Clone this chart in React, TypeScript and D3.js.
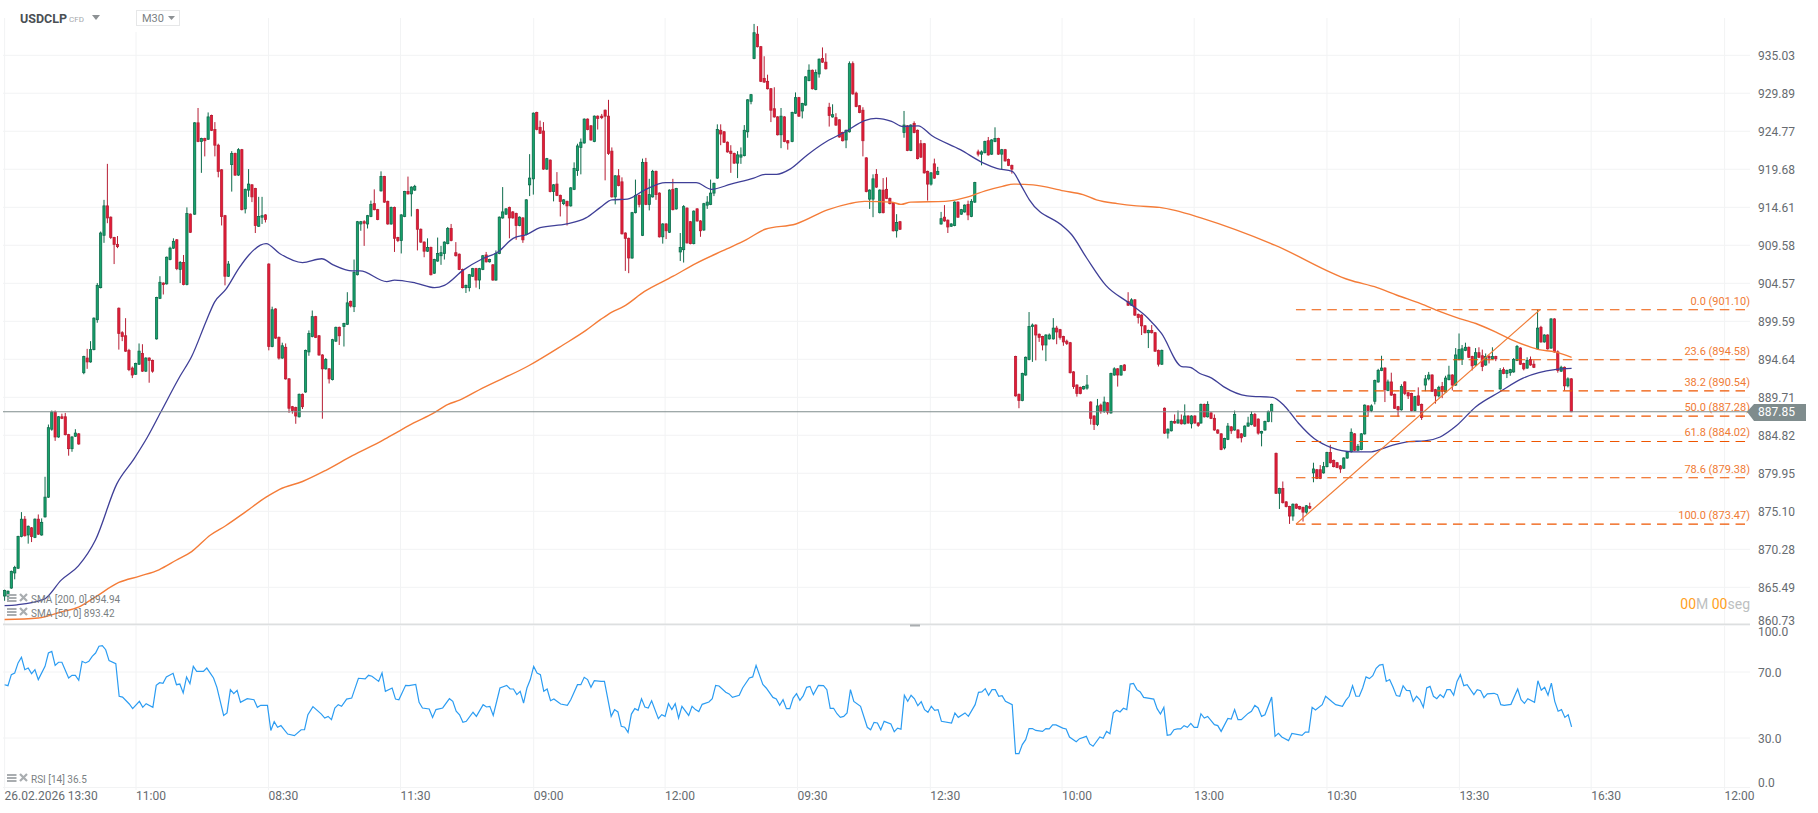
import React from "react";
import * as d3 from "d3";

const priceTicks = [935.03,929.89,924.77,919.68,914.61,909.58,904.57,899.59,894.64,889.71,884.82,879.95,875.10,870.28,865.49,860.73];
const rsiTicks = [100,70,30,0];
const timeLabels = ["26.02.2026 13:30","11:00","08:30","11:30","09:00","12:00","09:30","12:30","10:00","13:00","10:30","13:30","16:30","12:00"];
const timeSlots = [0,39,78.3,117.5,157,196,235.3,274.7,313.8,353,392.4,431.7,470.8,510.4];
const lastPrice = 887.85;
const fibLevels = [["0.0",901.10],["23.6",894.58],["38.2",890.54],["50.0",887.28],["61.8",884.02],["78.6",879.38],["100.0",873.47]] as [string,number][];
const fibSlots = [383.2,455.6];

// each candle: open, close, high, low. chunkStarts holds the slot of each chunk's first candle
const c0=[[864.4,865.1,865.2,863.8],[864.4,865.0,865.1,863.7],[865.4,867.5,867.6,865.3],[867.3,868.0,868.2,866.5],[867.9,871.9,872,867.8],[871.9,874.1,875,871.8],[874.1,872,874.5,871.9],[872.1,873.2,873.3,871],[873,871.9,873.1,871.2],[871.8,874.1,874.2,871.7],[874.1,872.2,874.7,872.1],[872.1,873.7,874.2,872],[874.4,876.9,879.5,874.3],[876.9,885.8,886.2,876.8],[885.6,887.8,888,885.4],[887.8,884.6,888,884.1],[884.6,887.2,887.3,884.5],[887.2,887,887.6,886.9],[887.2,884.9,887.7,884.8],[884.9,883.1,885,882.2],[883.1,884.6,884.7,882.7],[884.7,885.1,885.6,884.6],[885,883.7,885.1,883.6]];
const c1=[[892.9,895,895.1,892.7],[894.8,894.3,896,893.4],[894.3,895.9,897,894.2],[895.9,900,900.1,895.8],[899.8,904.3,904.6,899.4],[904,911.2,911.4,903.9],[910.9,914.8,915.6,909.9],[914.8,913.2,920.4,912.5],[913.3,910.6,913.4,910.4],[910.6,909.7,910.7,907.1],[909.7,909.4,910.8,909.2]];
const c2=[[901.3,898,901.4,895.9],[898.1,897.6,898.3,897],[897.7,895.7,900,895.6],[895.8,893.3,896,893.1],[893.5,892.6,893.7,892.2],[892.7,894.1,894.2,892.6],[894,895.7,896.7,893.9],[895.4,893.1,896.6,893],[893.1,894.8,894.9,893],[894.8,894.5,894.9,891.6],[894.5,893.1,894.6,892.9]];
const c3=[[897.3,902.7,902.8,897.2],[902.6,904.7,905.5,902.5],[904.6,904.4,904.7,903.1],[904.5,908,908.1,904.4],[907.7,909.2,909.4,907.6],[909.2,910.1,910.5,909.1],[910.3,906.5,910.4,906.3],[906.4,907.3,907.5,904.6],[907.3,904.4,908.3,904.3],[904.4,913.8,914.6,904.3],[913.7,911.3,913.8,911.2]];
const c4=[[913.7,925.9,926,913.6],[925.9,923.4,927.9,923.3],[923.4,923.8,923.9,919.2],[923.8,923.5,923.9,921.4],[923.7,926.7,927.3,923.6],[926.9,924.9,927,924.8],[925,922.9,926,921.4],[922.9,919.4,923.1,918.6],[919.6,913.4,919.7,912.2],[913.5,905.5,913.6,904.3],[905.5,907.1,907.5,905.4]];
const c5=[[920.3,921.8,922.1,916.7],[921.8,918.9,921.9,918.8],[918.9,922.3,922.5,918.8],[922.3,914.3,922.4,914.2],[914.4,917,917.1,913.8],[916.9,917.7,919.7,916],[917.6,916,917.7,915.3],[917.1,912.2,917.2,911.2],[912.1,913.4,916,912],[913.3,913.5,916,912.4],[913.6,913,913.7,912.6]];
const c6=[[907.1,896.3,907.2,895.8],[896.3,901.1,901.5,896.2],[901.2,897.4,901.3,897.3],[897.5,894.8,897.6,894.6],[894.8,896.4,896.8,894.7],[896.2,892.1,896.7,892],[892.1,888.3,892.2,887.7],[888.5,888,888.6,887.6],[888.4,887.3,888.5,886.3],[887.2,890.1,890.2,887.1],[890.1,888.5,890.2,888.2]];
const c7=[[890.4,895.8,895.9,890.3],[895.6,898,898.4,895.1],[897.6,900.2,901,897.5],[900.2,897.5,900.3,897.4],[897.7,895.2,897.8,895.1],[895.2,893.4,895.3,886.95],[893.4,894.6,894.8,893.3],[893.4,892.1,893.5,891.5],[892,897.2,897.3,891.9],[897,898.8,898.9,896.9],[898.8,897.7,898.9,896.5]];
const c8=[[898.9,899.3,899.4,896.3],[899.2,902,903.4,899.1],[902.2,901.6,902.3,901.4],[901.5,906,907.7,900.8],[905.7,912.7,912.8,905.6],[912.4,912.7,912.8,911.5],[912.7,912.5,912.9,909.5],[912.4,913.5,913.6,911.8],[913.4,915,915.5,913.3],[915.1,914.3,917,914.2],[914.3,913,914.4,912.9]];
const c9=[[916.8,918.7,919.4,916.7],[918.7,915.3,918.8,915.2],[915.4,912.4,915.5,912.3],[912.4,914.6,914.7,912.3],[914.6,910.5,914.7,908.7],[910.6,910.2,910.7,910],[910.2,913.6,913.7,908.5],[913.4,916.7,916.8,913.3],[916.7,916.4,918.7,916.3],[916.4,917.3,917.4,913.4],[916.9,917.4,917.6,916.8]];
const c10=[[914.3,911.7,914.4,908.9],[911.7,910,911.8,909.9],[910,908.8,910.1,908],[908.8,909.3,910.5,908.7],[909.3,905.7,909.4,905.6],[905.9,907.7,907.8,905.8],[907.5,908.5,910.6,907.4],[908.2,908.6,909.5,907],[908.5,910,910.1,907.7],[909.8,911.8,912,909.7],[911.8,910.2,912.4,910.1]];
const c11=[[908.6,908.2,910,908.1],[908.4,906.4,908.5,906.3],[906.4,904,906.5,903.9],[904,904.3,904.4,903.3],[904,905.7,905.8,903.5],[905.5,906.5,906.6,905.4],[906.5,905,906.6,904],[905,906.5,906.6,903.8],[906.4,908.2,908.3,906.3],[908.3,907.4,908.7,907.3],[907.4,907.7,907.8,907.3],[907,905,907.1,904.9]];
const c12=[[905,908.5,908.9,904.9],[908.5,913.3,913.4,908.4],[913.2,914,917.3,913.1],[913.7,914.4,914.5,913.6],[914.6,913.2,914.7,910.5],[914,913.2,914.1,913.1],[913.8,912.2,913.9,910.3],[912.2,913.3,913.4,912.1],[913.2,910.3,913.3,909.9],[911,915.6,915.7,910.9],[917.6,918.5,921.7,916.1]];
const c13=[[918.4,927.2,927.3,916.3],[927.3,925,927.4,924.9],[925.3,924.5,926.2,924.4],[924.8,919.7,926,919.6],[919.7,921.1,921.2,919.6],[920.9,916.7,921,916.6],[916.7,917.6,917.7,915.4],[917.7,916.2,919.3,916.1],[916.2,915.4,916.3,913.4],[915.1,915.6,915.7,914.9],[915.4,914.8,915.5,912.2]];
const c14=[[914.8,917.2,917.3,914.7],[917,919.8,920.6,916.9],[919.5,922.8,923.1,918.8],[922.6,923.3,923.8,919],[923.2,926.4,926.5,923.1],[926.4,925,926.5,924.9],[925.5,923.6,925.6,923.5],[923.4,926.8,926.9,923.3],[926.8,926.5,926.9,925]];
const c15=[[926.8,926.6,927.1,926.4],[927.6,926.8,927.7,918.2],[926.8,921.8,929,921.6],[922.1,916,922.6,915.9],[916,918.8,918.9,915],[918.8,917.5,919.7,917.4],[918,911.1,918.6,911],[911.2,910.5,911.3,906.2],[910.5,907.9,910.6,905.9],[907.9,913.9,914,907.8],[913.9,916.2,918.3,913.8]];
const c16=[[916.2,915,916.3,914.6],[910.9,920.6,921.1,910.8],[920.6,915,921.2,914.9],[915,916.3,918.4,914.2],[916,919.4,919.6,915.9],[919.4,916.3,919.5,915.6],[916.5,910.7,916.6,910.6],[910.7,912.4,912.5,909.8],[912.4,911.5,912.5,910.4],[911.3,916.9,917,911.2],[917,914.3,918.4,914.2],[914.4,917.1,917.2,914.3]];
const c17=[[908.7,909.3,911.2,907.5],[909,914.7,914.9,907.3],[914.5,909.9,914.6,909.8],[912.7,909.8,912.8,909.7],[909.8,914.1,914.2,909.7],[914.4,912.8,914.5,912.7],[912.8,911.5,912.9,910.7],[911.6,915.1,915.2,911.5],[914.9,915.3,916.1,914.4],[915,916.5,918.3,914.9],[916.5,917.8,917.9,916.1]];
const c18=[[918.5,925,925.7,918.4],[924.9,924.4,925.7,922.9],[924.7,923.3,924.8,923.2],[923.3,922,923.4,921.9],[922.1,921.8,922.9,919.2],[921.8,920.5,921.9,920.4],[920.5,921.6,922.1,918.5],[921.3,921.6,922.6,920.4],[921.5,924.9,925.6,921.4],[924.7,929,929.1,923.9],[928.8,929.7,929.8,928.4]];
const c19=[[934.6,938.1,939.3,934.5],[937.9,936.2,939,936.1],[936.2,931.5,936.3,931.4],[931.9,931.4,934.9,931.3],[931.5,930.5,932.4,930.4],[930.5,927.6,930.6,926],[927.8,926.7,930.7,926.6],[926.7,924.3,926.8,924.2],[924.3,926.8,927.9,922.5],[926.7,923.4,926.8,923.3],[923.5,923.2,923.6,922.3]];
const c20=[[923.4,927.3,927.4,923.3],[927.2,929.3,930,927.1],[929.3,926.8,929.4,926.7],[927.5,928.5,928.6,926.5],[928.3,932.1,932.2,928.2],[931.6,933,933.8,931.5],[933,930.5,933.1,930.4],[930.4,932.7,933.1,930.3],[932.5,934.5,934.6,932],[934.6,934.1,936.1,934],[934.1,933.2,935.3,933.1]];
const c21=[[928,926.9,928.6,925.4],[926.7,927,928.4,926.6],[926.6,925.6,927.2,925.5],[926.3,924,926.4,923.9],[924.6,923.5,924.7,923.4],[923.6,924.9,925,922.5],[924.7,933.9,934.2,924.6],[933.9,929.8,934.2,929.7],[929.9,928.1,930.1,928],[928.2,927.3,928.3,927.2],[927.6,923.5,928,921.4]];
const c22=[[921.2,916.7,921.3,916.6],[915.7,916.9,917,914.4],[915.7,918.4,919,913.3],[919,917.3,919.7,917.2],[913.9,916.9,917,913.8],[916.9,913.9,918.5,913.8],[917,915.8,918.6,915.7],[915.8,915.1,915.9,915],[915.2,911.5,915.3,911.4],[911.5,912.6,913.7,910.6],[912.7,911.7,912.8,911.6]];
const c23=[[924.6,925.6,927.5,923.9],[925.5,922.2,925.6,922.1],[922.2,925.6,925.7,922.1],[925.8,924.6,926.1,924.5],[924.9,921.1,925,921],[923.1,921.3,923.6,921.2],[923.1,919.2,923.2,919.1],[919.4,917.7,919.5,915.5],[917.7,919.2,919.3,917.5],[920.4,918.5,921.1,918.4],[919,919.4,920,918.9]];
const c24=[[912.4,913.1,914,912.3],[913.3,912.8,914.9,912.7],[912.9,912,913,911.2],[912.1,912.4,912.5,912],[912.2,915.3,915.4,912.1],[915.3,913.3,915.4,913.2],[913.7,914.3,914.4,913.6],[914,914.9,915,913.9],[915,913.6,915.5,912.9],[913.4,915.4,915.7,913.3],[915.3,917.9,918,915.2]];
const c25=[[922,921.7,922.3,921.4],[921.7,922,922.2,920.2],[921.9,923.4,923.5,921.8],[923.5,921.6,924,921.5],[921.7,923.6,923.7,921.6],[923.4,923.8,925.3,923.3],[923.8,921.7,923.9,921.6],[921.7,922.3,922.4,919.7],[922.3,920.8,922.4,920.7],[921,920.2,921.1,920.1],[920.2,919.7,920.3,919.1]];
const c26=[[895,889.9,895.1,889.8],[890.1,889.3,890.2,888.3],[889.3,892.8,892.9,889.2],[892.6,894.9,895,892.5],[894.6,898.9,900.8,894.5],[898.9,899.1,899.3,894.3],[899.1,897.8,899.2,894.5],[897.9,897.5,898,896.9],[897.6,896.5,897.7,895.8],[896.5,897.8,897.9,894.4],[897.3,897.8,898,897.2]];
const c27=[[897.3,898.7,900,897.2],[898.7,898.2,899,896.6],[898.5,897.5,898.6,897.2],[897.6,896.9,897.7,896.4],[897,896.7,897.2,896.5],[896.8,892.9,896.9,892.8],[893,891.1,893.1,890.8],[891.3,890.2,891.4,889.8],[891,890.2,891.1,890.1],[890.8,891.1,891.2,890.7],[890.9,891.3,892.6,890.7]];
const c28=[[889.1,887,889.2,886.2],[887.3,886.2,887.4,885.5],[886.2,888.6,889.5,886],[888.7,887.9,888.9,887.6],[887.9,889.1,889.8,887.7],[889,887.8,889.1,887.5],[887.7,892.8,892.9,887.6],[892.6,893.4,893.6,892.5],[893.4,892.6,893.5,891.1],[892.6,893.8,893.9,892.5],[893.9,893.2,894,893.1]];
const c29=[[902.2,901.7,903.4,901.6],[901.7,902.4,902.6,901.6],[902.4,900.4,902.5,900.3],[900.5,900.1,900.6,899.3],[900.4,899,900.5,897.8],[899,898.1,899.1,898],[898.1,898.4,898.5,896.1],[898.4,898.1,899.1,898],[898.1,895.7,898.2,895.6],[895.8,894,895.9,893.7],[894,895.8,895.9,893.9]];
const c30=[[888.3,885.1,888.4,885],[885.1,885.6,885.7,884.4],[885.4,886.6,886.7,885.3],[886.6,886.4,887.5,886.3],[886.4,886.8,888,886.3],[886.8,886.3,887.5,886.2],[886.3,887.3,888.8,886.2],[887.3,886.4,887.4,886.3],[886.3,887.3,887.4,885.7],[887.3,886.4,887.4,886.3],[886.4,886.1,886.5,885.9]];
const c31=[[886.4,888.8,888.9,886.3],[888.8,887.2,888.9,887.1],[887.2,888.8,889.2,887.1],[887.7,887,887.8,886.9],[887,885.5,887.5,885.4],[885.5,885.1,885.6,885],[885,883,885.1,882.9],[883.2,884.4,884.5,883],[884.3,886,886.4,884.2],[885.9,885.4,886,885],[885.5,887.5,888,885.4],[885.5,884.5,885.6,884.4],[885,884.5,885.1,883.9],[884.7,886,886.1,884.6],[886,886.4,887.2,885.9],[886.2,887.5,887.9,886.1],[887.5,886,887.7,885.9],[886.9,885.1,887,884.9],[885.1,885.3,885.4,883.4],[885.5,886.6,886.7,885.4],[886.6,887.9,888,886.5],[887.9,888.8,888.9,886.5]];
const c32=[[882.5,877.4,882.6,877.3],[877.4,878,878.1,875.4],[878,876.2,878.9,876.1],[876.3,875.7,876.4,875.6],[875.7,874.5,875.8,873.5],[874.5,876,876.1,873.9],[876,875.5,876.1,875.4],[875.7,875.4,875.8,875.3],[875.6,875,875.7,873.8],[875,875.8,875.9,874.8],[875.7,875.5,876.2,875.4]];
const c33=[[880,880.5,881.3,878.8],[880.4,879.3,880.5,879.2],[880.4,879.3,881,879.2],[880,880.8,881.4,879.9],[880.8,882.6,882.7,880.7],[882.6,881.3,883.6,881.2],[881.6,880.8,881.7,880.7],[881.3,880.7,881.4,880.6],[880.9,880.5,881,880],[880.6,881.9,882,880.5],[881.9,882.6,882.7,881.8]];
const c34=[[882.7,885.2,885.7,882.6],[885,882.9,885.1,882.8],[882.9,883.4,883.7,882.8],[883,885,885.1,882.9],[885,888.7,888.8,884.9],[888.6,888,888.7,887.2],[888,888.6,888.8,887.8],[889.2,891.9,892,888.8],[891.7,893.2,893.4,891.6],[893.2,893.5,895.1,893.1],[893.5,890.7,893.6,889.1]];
const c35=[[890.6,891.7,892,890.5],[891.7,890,892.9,889.9],[890.1,888.3,890.2,888.2],[888.5,888.1,888.6,887.2],[888.1,891.1,891.4,888],[891.7,890.2,891.8,890],[890.3,889.9,890.4,889.5],[890.2,888,890.3,887.9],[888,889.8,889.9,887.9],[889.9,888.7,891,888.6],[888.8,887.1,888.9,886.8]];
const c36=[[891.3,892.1,892.6,890.5],[892.1,892.6,893,891.9],[892.6,890.5,892.7,890.4],[890.7,889.9,890.8,888.9],[889.9,891,891.2,889.7],[891.1,890.5,891.7,889.6],[890.4,892.2,892.5,890.3],[892,892.6,893.8,891.9],[892.6,891.3,892.7,890.6],[891.3,895.2,896.1,891.2],[894.6,895.9,898,894.5]];
const c37=[[894.6,896,896.5,893.9],[895.8,896.2,896.8,895.7],[896.2,894.9,896.3,894.8],[895,893.8,895.1,893.2],[893.9,895.5,896.1,893.8],[895.5,894.9,896.2,894.8],[895.1,893.7,895.9,893.1],[893.9,895,895.4,893.8],[895,894.8,895.2,894.1],[894.7,895,896.2,894.6],[895,894.7,895.1,894.4]];
const c38=[[890.8,893.2,893.5,890.7],[893.3,892.8,893.6,892.7],[892.8,893.2,893.3,892.2],[892.9,893.3,893.4,892.5],[893,894.6,894.8,892.9],[894.5,896.3,896.5,894.4],[896.1,894,896.2,893.9],[894.1,893.4,894.2,893.2],[893.5,894.5,894.9,893.4],[894.6,893.9,895,893.8],[894,893.6,894.5,893.5]];
const c39=[[896,898.7,901.1,895.9],[898.8,896.9,899,896.8],[896.9,897.8,897.9,896.8],[897.8,896,897.9,895.9],[896.1,899.9,900,896],[899.9,895.6,900,895.5],[895.6,893.2,895.8,892.9],[893.1,893.6,893.8,893],[893.6,891.2,893.7,890.6],[891.2,892.1,892.3,891],[892.1,887.85,892.2,887.8]];
const chunks=[c0,c1,c2,c3,c4,c5,c6,c7,c8,c9,c10,c11,c12,c13,c14,c15,c16,c17,c18,c19,c20,c21,c22,c23,c24,c25,c26,c27,c28,c29,c30,c31,c32,c33,c34,c35,c36,c37,c38,c39];
const chunkStarts=[0,23.5,33.9,45.1,56.4,67.4,78.4,89.3,100.7,111.7,122.5,133.9,145.8,156.9,168,177.2,188.3,200.5,211.5,222.4,233.7,244.7,255.7,266.9,277.9,288.9,300,311.2,322.3,333.4,344.2,355,377.3,388.4,399.6,410.5,421.6,432.5,443.8,454.9];

const sma200=[[0,861.45],[10,861.65],[16.8,862.4],[21.9,863],[27,864.3],[33.9,866.1],[40.1,866.9],[45.8,867.7],[50.9,868.9],[55.5,870],[61.1,872.1],[65.7,873.3],[71.4,875],[77.6,876.9],[81.6,877.9],[88.4,878.9],[95.2,880.3],[103.2,882.2],[112.3,884.2],[116.8,885.3],[121.4,886.4],[127,887.6],[131.6,888.8],[135,889.35],[141.8,890.9],[155.5,893.8],[165.7,896.5],[172.5,898.4],[176.8,899.8],[180.2,900.8],[183.6,901.5],[189.9,903.5],[198.4,905.5],[205.2,907.2],[214.3,909.1],[220,910.3],[225.7,911.7],[234.8,912.4],[244.4,914.3],[250.7,915.1],[255.2,915.4],[263.2,915.3],[266,915],[268.9,915.3],[279.1,915.4],[285.9,916],[291,916.8],[296.1,917.4],[299.5,917.7],[305.2,917.6],[314.3,916.8],[320,916.3],[324,915.6],[330.2,915.1],[335.9,914.8],[342.7,914.6],[347.3,914.2],[355,913.2],[376.9,909.6],[399.1,905],[407.3,904],[413.2,903],[420.2,901.9],[426,900.85],[430.7,900.1],[436.6,899.3],[442.4,898.2],[447.1,897.2],[455.3,895.9],[460,895.6],[465,894.9]];
const sma50=[[0,863.2],[3.7,863.3],[11.7,864],[16.8,866.4],[21.9,868.2],[27,871.5],[33.3,878.6],[38.4,881.8],[42.4,884.6],[46.4,887.85],[52,892.4],[55.5,895],[60,899.8],[62.3,902.1],[65.7,903.8],[69.6,906.6],[72.5,908.3],[75.9,909.6],[77.6,909.8],[81.6,908.5],[88.4,907.3],[94.1,907.8],[97.5,907],[103.2,906.2],[105.5,906.2],[113.4,904.8],[115.7,905],[122,904.6],[127.6,904],[130.5,904.3],[136.1,906.3],[141.8,907.8],[146.4,908.7],[150.9,910.5],[154.9,911],[158.9,911.9],[166.8,912.4],[172.5,913.2],[176.8,914.6],[180.2,915.6],[184.8,915.7],[189.9,916.9],[196.1,917.9],[205.2,917.9],[209.8,917],[215.5,917.7],[222.3,918.5],[225.7,919],[229.1,919],[233.1,919.7],[238.2,921.6],[243.9,923.4],[249.5,924.7],[255.2,926.2],[258.6,926.5],[263.2,926.1],[266.6,925.4],[271.1,925.5],[275.1,924.2],[283.6,922.3],[290.5,920.5],[294.4,919.8],[299,919.4],[301.8,917.4],[304.1,915.6],[314.3,912],[316.6,911],[321.1,907.9],[326.8,904.3],[333.6,902],[339.3,900],[343.3,898],[349.3,893.7],[351.8,893.6],[354.7,892.8],[358.2,892.2],[361.7,891.1],[368.7,889.9],[376.3,889.7],[379.8,888.6],[383.9,886.4],[388.6,884.4],[393.3,883.3],[400.3,882.7],[405.6,882.7],[410.8,883.4],[416.7,884],[421.4,884.1],[426,884.6],[430.7,886],[436.6,888.5],[443.6,890.4],[450.6,892.2],[455.3,892.9],[460,893.3],[465,893.45]];

const rsiA=[[0,62.3],[1,61.7],[2,68.4],[3,69.4],[4,75.5],[5,78.9],[6,71.4],[7,72.4],[8,69],[9,71.4],[10,65.4],[12,73.4],[13,81.5],[14,82.5],[15,74],[16,75.9],[17,75.9],[19,66.4],[20,68],[21,68],[22,65],[23,76.5],[24,75.5],[25,76.5],[26,79.5],[27,81.5],[28,85.6],[29,86],[30,83.5],[31,76.9],[33,75],[34,55.3],[35,54.8],[37,50.6],[38,47.8],[40,52.2],[41,48.6],[42,50.8],[44,48.6],[45,61.9],[46,63.5],[47,63.1],[48,67],[50,69.2],[51,62.3],[52,62.7],[53,57.3],[54,67],[55,62.9],[56,73.4],[57,70.4],[59,70.4],[60,72.4],[62,66.4],[63,60.7],[65,43.7],[66,45.2],[67,59.3],[68,56.9],[69,58.9],[70,51.6],[72,53.8],[74,53.2],[75,48.6],[76,49.8],[78,49.8],[79,34.6],[80,39.9],[81,36.5],[82,37.5],[84,32.4],[86,31.4],[88,35],[89,35],[90,44.1],[91.5,49],[94,44.5],[95,42.1],[96,43.1],[97,41.1],[98,48.2],[99,50.2],[100,49.2],[101.5,53.6],[103,54.2],[105,66.2],[107,65.8],[108,68],[109,67.4],[111,64.3],[112,69.4],[113,58.3],[115,60.3],[116,53.6],[117,53.2],[119,61.9],[120,61.7],[122,62.5],[123,51.6],[124,48.2],[126,47.6],[127,42.5],[128,47.2],[130,48.2],[132,53.8],[133,52.2],[134,46.2],[135,44.1],[136,39.5],[137,40.1],[139,45.6],[140,43.1],[142,50.2],[143,48.8],[144,49.2],[145,43.7],[147,60.3],[149,61.9],[150,59.7],[151,59.7],[152,56.3],[153,58.3],[154,51.2],[155,60.3],[156,65.4],[157,73.4],[158,69.4],[159,68.4],[160,58.3],[161,59.7],[162,52.6],[163,53.6],[165,50.6],[167,49.8],[168,53.2],[170,62.3],[171,62.3],[172,66.8],[173,65.4],[174,60.7],[175,64.7],[177,64.3]];
const rsiB=[[178,64.3],[180,43.1],[181,47.2],[182,45.8],[183,37.1],[184,36.5],[185,33.4],[186,44.5],[187,47.8],[188,46.8],[189,53.8],[190,48.8],[191,48.2],[192,52.6],[194,41.7],[195,44.1],[196,43.1],[197,50.8],[198,47.2],[199,50.8],[200,42.1],[201,49.2],[203,43.7],[204,49.2],[205,47.2],[206,46],[207,50.4],[209,51.8],[210,53.8],[211,61.9],[212,61.5],[214,57.7],[215,56.7],[216,54.6],[218,55.9],[219,60.3],[221,66.4],[222,67],[223,74],[225,62.5],[226,60.3],[228,54.6],[229,53.6],[230,49.8],[231,53.2],[232,47.8],[233,47.8],[234,54.2],[235,56.9],[236,52.8],[237,55.7],[238,60.7],[239,61.3],[240,56.3],[241.5,61.9],[243,61.7],[244,59.3],[245,48],[246,48],[247,44.7],[248,42.5],[249,43.1],[250,45.2],[251,59.3],[252,52.2],[254,49.2],[256,36.5],[257,35],[258,39.5],[259,39.1],[260,35],[261,40.1],[263,38.5],[264,33.8],[265,36],[266,35.3],[267,55.9],[268,52.2],[269,55.9],[270,53.8],[271,49.6],[272,52],[273,47.2],[274,45.6],[275,49.2],[276,46.8],[277,47.2],[278,40.1],[281,39.1],[282,45.2],[283,42.5],[285,45.2],[286,43.1],[288,50.2],[289,57.7],[290,57.9],[291,59.9],[292,55.9],[293,59.3],[294,59.3],[295,55.3],[296,55.7],[297,52.2],[299,50.2],[300,20.5],[301,20.5],[302,26],[303,29],[304,35.7],[305,35.7],[306,34.6],[308,34],[309,35.7],[310,35.5],[311,37.9],[312,37.9],[314,36],[315,35.5],[316,30.6],[318,27.8],[319,29.6],[321,31],[322,26.4],[323,25],[325,30.6],[326,29.8],[327,34],[328,32.6],[329,45.2],[330,46.8],[331,45.8],[332,48],[333,47.2],[334,62.7],[335,63.1],[336,59.3],[337,57.9],[338,54.6],[341,53.6],[342,47.8],[343,44.5],[344,48.6],[345,31.6],[346,32],[347,35],[348,35.5],[349,35.5],[350,37.5],[351,36.5],[352,38.9],[353,36.5],[354,36.5]];
const rsiC=[[355,44.7],[356,42.1],[357,43.1],[359,38.1],[360,37.5],[361,34],[363,41.9],[364,41.5],[365,47.2],[366,41.1],[367,41.1],[369,44.9],[370,46.2],[371,49.8],[372,48.2],[373,43.1],[374,44.1],[376,54.8],[377,31],[378,32.8],[379,30.6],[381,28.4],[382,32.8],[385,31.6],[386,33.6],[387,33.6],[388,48.6],[389,47],[391,50.2],[392,55.3],[394,51.8],[395,50.2],[397,49.2],[398,52.8],[399,55.3],[400,61.7],[401,55.3],[402,55.3],[403,60.3],[404,67],[405,66],[406,67.8],[407,72.2],[408,74.2],[409,74.6],[410,64.3],[411,65.4],[412,60.9],[413,55.7],[414,55.3],[415,61.7],[416,58.9],[417,58.7],[418,52.2],[419,55.3],[420,53.2],[421,48.6],[422,60.3],[423,61.3],[424,55.3],[425,53.8],[426,56.3],[427,54.6],[428,59.3],[429,59.3],[430,55.9],[431,64.3],[432,68.4],[433,61.7],[434,62.3],[436,56.3],[437,59.3],[438,58.7],[439,54.4],[440,56.7],[442,57.1],[443,56.3],[444,50.2],[445,49.8],[447,50.4],[449,59.7],[450,53.2],[451,51],[452,53.8],[454,51.6],[455,64.7],[456,58.9],[457,60.7],[458,55.9],[459,63.3],[460,52.2],[461,46.2],[462,47.2],[463,42.5],[464,44.1],[465,36.7]];
const rsiSeries=[...rsiA,...rsiB,...rsiC];

const W=1818,H=813;
const x=d3.scaleLinear().domain([0,465]).range([4.6,1571.6]);
const y=d3.scaleLog().domain([935.03,860.73]).range([55.3,625.3]);
const yR=d3.scaleLinear().domain([0,100]).range([787.5,622.5]);
const lineP=d3.line<number[]>().x(d=>x(d[0])).y(d=>y(d[1])).curve(d3.curveMonotoneX);
const lineR=d3.line<number[]>().x(d=>x(d[0])).y(d=>yR(d[1]));
const GRID="#f2f3f4",AX="#666b70",FONT="Roboto, sans-serif";
const FIB="#ee5500",FIBT="#f07b35";

function Legend({ty,label}:{ty:number,label:string}){
  return <g>
    <g fill="#a9adb0">
      <rect x={7} y={ty-5} width={9.5} height={2}/><rect x={7} y={ty-2} width={9.5} height={2}/><rect x={7} y={ty+1} width={9.5} height={2}/>
    </g>
    <path d={`M20 ${ty-5} L27 ${ty+2} M27 ${ty-5} L20 ${ty+2}`} stroke="#a9adb0" strokeWidth={2.2}/>
    <text x={31} y={ty+3.8} fontSize={10} fill="#7b7f83" fontFamily={FONT}>{label}</text>
  </g>;
}

export default function App(){
  const up="#17a36c",upD="#0d6b4b",dn="#e31c36",dnD="#b71d34";
  return <svg width={W} height={H} style={{position:"fixed",left:0,top:0,background:"#fff",display:"block"}}>
    {priceTicks.map(t=><line key={t} x1={3} x2={1750} y1={y(t)} y2={y(t)} stroke={GRID} strokeWidth={1}/>)}
    {[70,30,0].map(t=><line key={t} x1={3} x2={1750} y1={yR(t)} y2={yR(t)} stroke={GRID} strokeWidth={1}/>)}
    {timeSlots.map((s,i)=><line key={i} x1={x(s)} x2={x(s)} y1={i===1?32:18} y2={790} stroke={GRID} strokeWidth={1}/>)}
    <line x1={3} x2={1750} y1={624.3} y2={624.3} stroke="#dddfe0" strokeWidth={1.4}/>
    <rect x={910} y={624.5} width={10} height={2} fill="#a9adb0"/>

    {chunks.map((ch,ci)=>ch.map((d,i)=>{
      const [o,c,h,l]=d;const s=chunkStarts[ci]+i;const cx=x(s);const isUp=c>=o;
      const t=Math.min(y(o),y(c)),b=Math.max(y(o),y(c));
      return <g key={ci+"-"+i}>
        <line x1={cx} x2={cx} y1={y(h)} y2={y(l)} stroke={isUp?upD:dnD} strokeWidth={1}/>
        <rect x={cx-1.1} y={t} width={2.2} height={Math.max(b-t,1)} fill={isUp?up:dn} stroke={isUp?upD:dnD} strokeWidth={0.8}/>
      </g>;
    }))}

    <path d={lineP(sma200)!} fill="none" stroke="#f47c38" strokeWidth={1.4}/>
    <path d={lineP(sma50)!} fill="none" stroke="#3f3f97" strokeWidth={1.3}/>

    {fibLevels.map(([n,v])=><g key={n}>
      <line x1={x(fibSlots[0])} x2={1750} y1={y(v)} y2={y(v)} stroke={FIB} strokeWidth={1.2} strokeDasharray="9.5 6.2"/>
      <text x={1750} y={y(v)-5} textAnchor="end" fontSize={11} fill={FIBT} fontFamily={FONT}>{`${n} (${v.toFixed(2)})`}</text>
    </g>)}
    <line x1={x(fibSlots[0])} y1={y(873.47)} x2={x(fibSlots[1])} y2={y(901.10)} stroke={FIBT} strokeWidth={1.2}/>

    <line x1={3} x2={1750} y1={y(lastPrice)} y2={y(lastPrice)} stroke="#7f8c8d" strokeWidth={1.2}/>

    <path d={lineR(rsiSeries)!} fill="none" stroke="#2b9cf2" strokeWidth={1.2}/>

    {priceTicks.map((t,i)=><text key={t} x={1758} y={(i===priceTicks.length-1?y(t)-5:y(t))+4.5} fontSize={12} fill={AX} fontFamily={FONT}>{t.toFixed(2)}</text>)}
    {rsiTicks.map(t=><text key={t} x={1758} y={(t===100?632:t===0?783:yR(t)+1)+4} fontSize={12} fill={AX} fontFamily={FONT}>{t.toFixed(1)}</text>)}
    {timeLabels.map((t,i)=><text key={i} x={x(timeSlots[i])} y={800} fontSize={12} fill={AX} fontFamily={FONT}>{t}</text>)}

    <path d={`M1747 ${y(lastPrice)} L1754 404 L1806 404 L1806 421 L1754 421 Z`} fill="#7f8c8d"/>
    <text x={1758} y={y(lastPrice)+4} fontSize={12} fill="#fff" fontFamily={FONT}>{lastPrice.toFixed(2)}</text>

    <text x={1750} y={609} textAnchor="end" fontSize={14} fontFamily={FONT} fill="#bdbfc1"><tspan fill="#ff9f1c">00</tspan>M <tspan fill="#ff9f1c">00</tspan>seg</text>

    <text x={20} y={22.5} fontSize={12.5} fontWeight={700} fill="#4a4f54" fontFamily={FONT}>USDCLP</text>
    <text x={69} y={22} fontSize={8} fill="#a5a8ab" fontFamily={FONT}>CFD</text>
    <path d="M92 15 L100 15 L96 20 Z" fill="#8d9194"/>
    <rect x={136.5} y={10.5} width={43} height={15} fill="#fff" stroke="#e6e7e8"/>
    <text x={142} y={22} fontSize={11} fill="#7b7f83" fontFamily={FONT}>M30</text>
    <path d="M168 16 L175 16 L171.5 20 Z" fill="#8d9194"/>

    <Legend ty={599} label="SMA [200, 0] 894.94"/>
    <Legend ty={613} label="SMA [50, 0] 893.42"/>
    <Legend ty={779} label="RSI [14] 36.5"/>
  </svg>;
}
